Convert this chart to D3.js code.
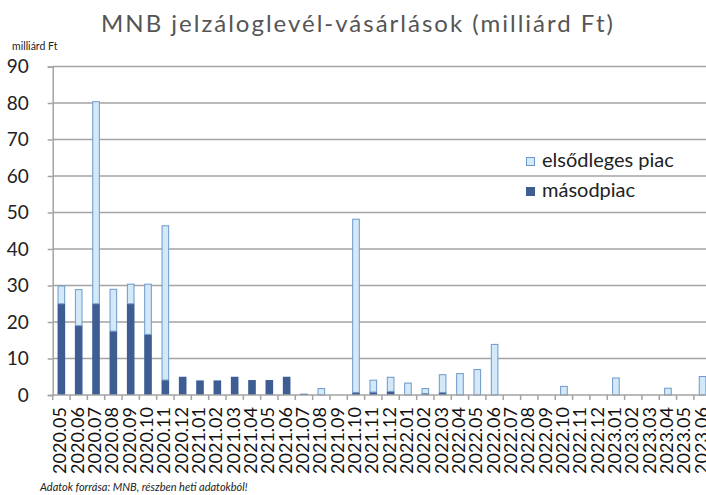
<!DOCTYPE html>
<html>
<head>
<meta charset="utf-8">
<script src="https://cdn.jsdelivr.net/npm/d3@7"></script>
<style>
  body { margin: 0; background: #fff; }
  svg { display: block; font-family: Lato, 'Open Sans', sans-serif; }
</style>
</head>
<body>
<svg id="chart" width="706" height="495"></svg>
<script>
// monthly categories
const months = [
  '2020.05', '2020.06', '2020.07', '2020.08', '2020.09', '2020.10', '2020.11', '2020.12',
  '2021.01', '2021.02', '2021.03', '2021.04', '2021.05', '2021.06', '2021.07', '2021.08',
  '2021.09', '2021.10', '2021.11', '2021.12', '2022.01', '2022.02', '2022.03', '2022.04',
  '2022.05', '2022.06', '2022.07', '2022.08', '2022.09', '2022.10', '2022.11', '2022.12',
  '2023.01', '2023.02', '2023.03', '2023.04', '2023.05', '2023.06'
];
// másodpiac (secondary market)
const secondary = [
  25, 19, 25, 17.5, 25, 16.6, 4.1, 5,
  4, 4, 5, 4.1, 4.1, 5, 0.35, 0,
  0, 0.7, 0.8, 1, 0, 0.4, 0.7, 0,
  0, 0, 0, 0, 0, 0, 0, 0,
  0, 0, 0, 0, 0, 0
];
// elsődleges piac (primary market)
const primary = [
  5, 10, 55.5, 11.6, 5.5, 13.9, 42.4, 0,
  0, 0, 0, 0, 0, 0, 0, 1.9,
  0, 47.6, 3.4, 4, 3.4, 1.5, 5, 6,
  7.1, 14, 0, 0, 0, 2.5, 0, 0,
  4.8, 0, 0, 2, 0, 5.2
];
const yTicks = [0, 10, 20, 30, 40, 50, 60, 70, 80, 90];
const seriesNames = ['elsődleges piac', 'másodpiac'];

const darkBlue = '#3d5d93';
const lightBlue = '#d3e9f7';
const lightStroke = '#6d98cc';
const gridColor = '#a3a3a3';

const svg = d3.select('#chart');
const margin = { top: 66.5, left: 52.7 };
const plotBottom = 395;
const step = 17.33;

const x = d3.scaleBand()
  .domain(months)
  .range([margin.left, margin.left + step * months.length])
  .padding(0);

const y = d3.scaleLinear()
  .domain([0, 90])
  .range([plotBottom, margin.top]);

// gridlines
svg.append('g')
  .selectAll('line')
  .data(yTicks.filter(d => d > 0))
  .enter()
  .append('line')
  .attr('x1', margin.left)
  .attr('x2', 706)
  .attr('y1', d => y(d))
  .attr('y2', d => y(d))
  .attr('stroke', gridColor)
  .attr('stroke-width', 1.5);

// y axis
const yAxis = svg.append('g')
  .attr('transform', `translate(${margin.left},0)`)
  .call(d3.axisLeft(y).tickValues(yTicks).tickSize(5).tickPadding(19));
yAxis.select('.domain').attr('stroke', gridColor).attr('stroke-width', 1.5);
yAxis.selectAll('.tick line').attr('stroke', gridColor).attr('stroke-width', 1.5);
yAxis.selectAll('text')
  .attr('fill', '#222')
  .style('font-size', '19px')
  .style('font-family', 'Lato, sans-serif');

const bw = x.bandwidth() * 0.44;
const bx = d => x(d) + (x.bandwidth() - bw) / 2;

// secondary market bars
svg.append('g')
  .selectAll('rect')
  .data(months)
  .enter()
  .filter((d, i) => secondary[i] > 0)
  .append('rect')
  .attr('x', d => bx(d))
  .attr('width', bw)
  .attr('y', d => y(secondary[months.indexOf(d)]))
  .attr('height', d => plotBottom - y(secondary[months.indexOf(d)]))
  .attr('fill', darkBlue);

// primary market bars stacked on top
svg.append('g')
  .selectAll('rect')
  .data(months)
  .enter()
  .filter((d, i) => primary[i] > 0)
  .append('rect')
  .attr('x', d => bx(d) + 0.5)
  .attr('width', bw - 1)
  .attr('y', d => {
    const i = months.indexOf(d);
    return y(secondary[i] + primary[i]) + 0.5;
  })
  .attr('height', d => {
    const i = months.indexOf(d);
    return y(secondary[i]) - y(secondary[i] + primary[i]) - 0.5;
  })
  .attr('fill', lightBlue)
  .attr('stroke', lightStroke)
  .attr('stroke-width', 1);

// x axis with ticks between the bars
const xg = svg.append('g').attr('transform', `translate(0,${plotBottom})`);
xg.append('line')
  .attr('x1', margin.left)
  .attr('x2', 706)
  .attr('stroke', gridColor)
  .attr('stroke-width', 1.5);
xg.selectAll('.tk')
  .data(months)
  .enter()
  .append('line')
  .attr('class', 'tk')
  .attr('x1', d => x(d))
  .attr('x2', d => x(d))
  .attr('y1', 0)
  .attr('y2', 5)
  .attr('stroke', gridColor)
  .attr('stroke-width', 1.5);
xg.selectAll('text')
  .data(months)
  .enter()
  .append('text')
  .attr('transform', d => `translate(${x(d) + x.bandwidth() / 2 + 5},12) rotate(-90)`)
  .attr('text-anchor', 'end')
  .attr('fill', '#111')
  .style('font-size', '18px')
  .text(d => d);

// title and labels
svg.append('text')
  .attr('x', 358)
  .attr('y', 32)
  .attr('text-anchor', 'middle')
  .attr('fill', '#555')
  .style('font-size', '24px')
  .style('letter-spacing', '2px')
  .text('MNB jelzáloglevél-vásárlások (milliárd Ft)');

svg.append('text')
  .attr('x', 12)
  .attr('y', 50)
  .attr('fill', '#222')
  .style('font-size', '10.5px')
  .text('milliárd Ft');

svg.append('text')
  .attr('x', 40)
  .attr('y', 491)
  .attr('fill', '#222')
  .style('font-size', '11px')
  .style('font-style', 'italic')
  .text('Adatok forrása: MNB, részben heti adatokból!');

// legend
const legend = svg.append('g').attr('transform', 'translate(526,0)');
const legendRows = [
  { name: seriesNames[0], fill: lightBlue, stroke: lightStroke, y: 157 },
  { name: seriesNames[1], fill: darkBlue, stroke: darkBlue, y: 187 }
];
legendRows.forEach(r => {
  legend.append('rect')
    .attr('x', 0.5)
    .attr('y', r.y + 0.5)
    .attr('width', 8)
    .attr('height', 8)
    .attr('fill', r.fill)
    .attr('stroke', r.stroke);
  legend.append('text')
    .attr('x', 16)
    .attr('y', r.y + 10)
    .attr('fill', '#222')
    .style('font-size', '20px')
    .text(r.name);
});
</script>
</body>
</html>
